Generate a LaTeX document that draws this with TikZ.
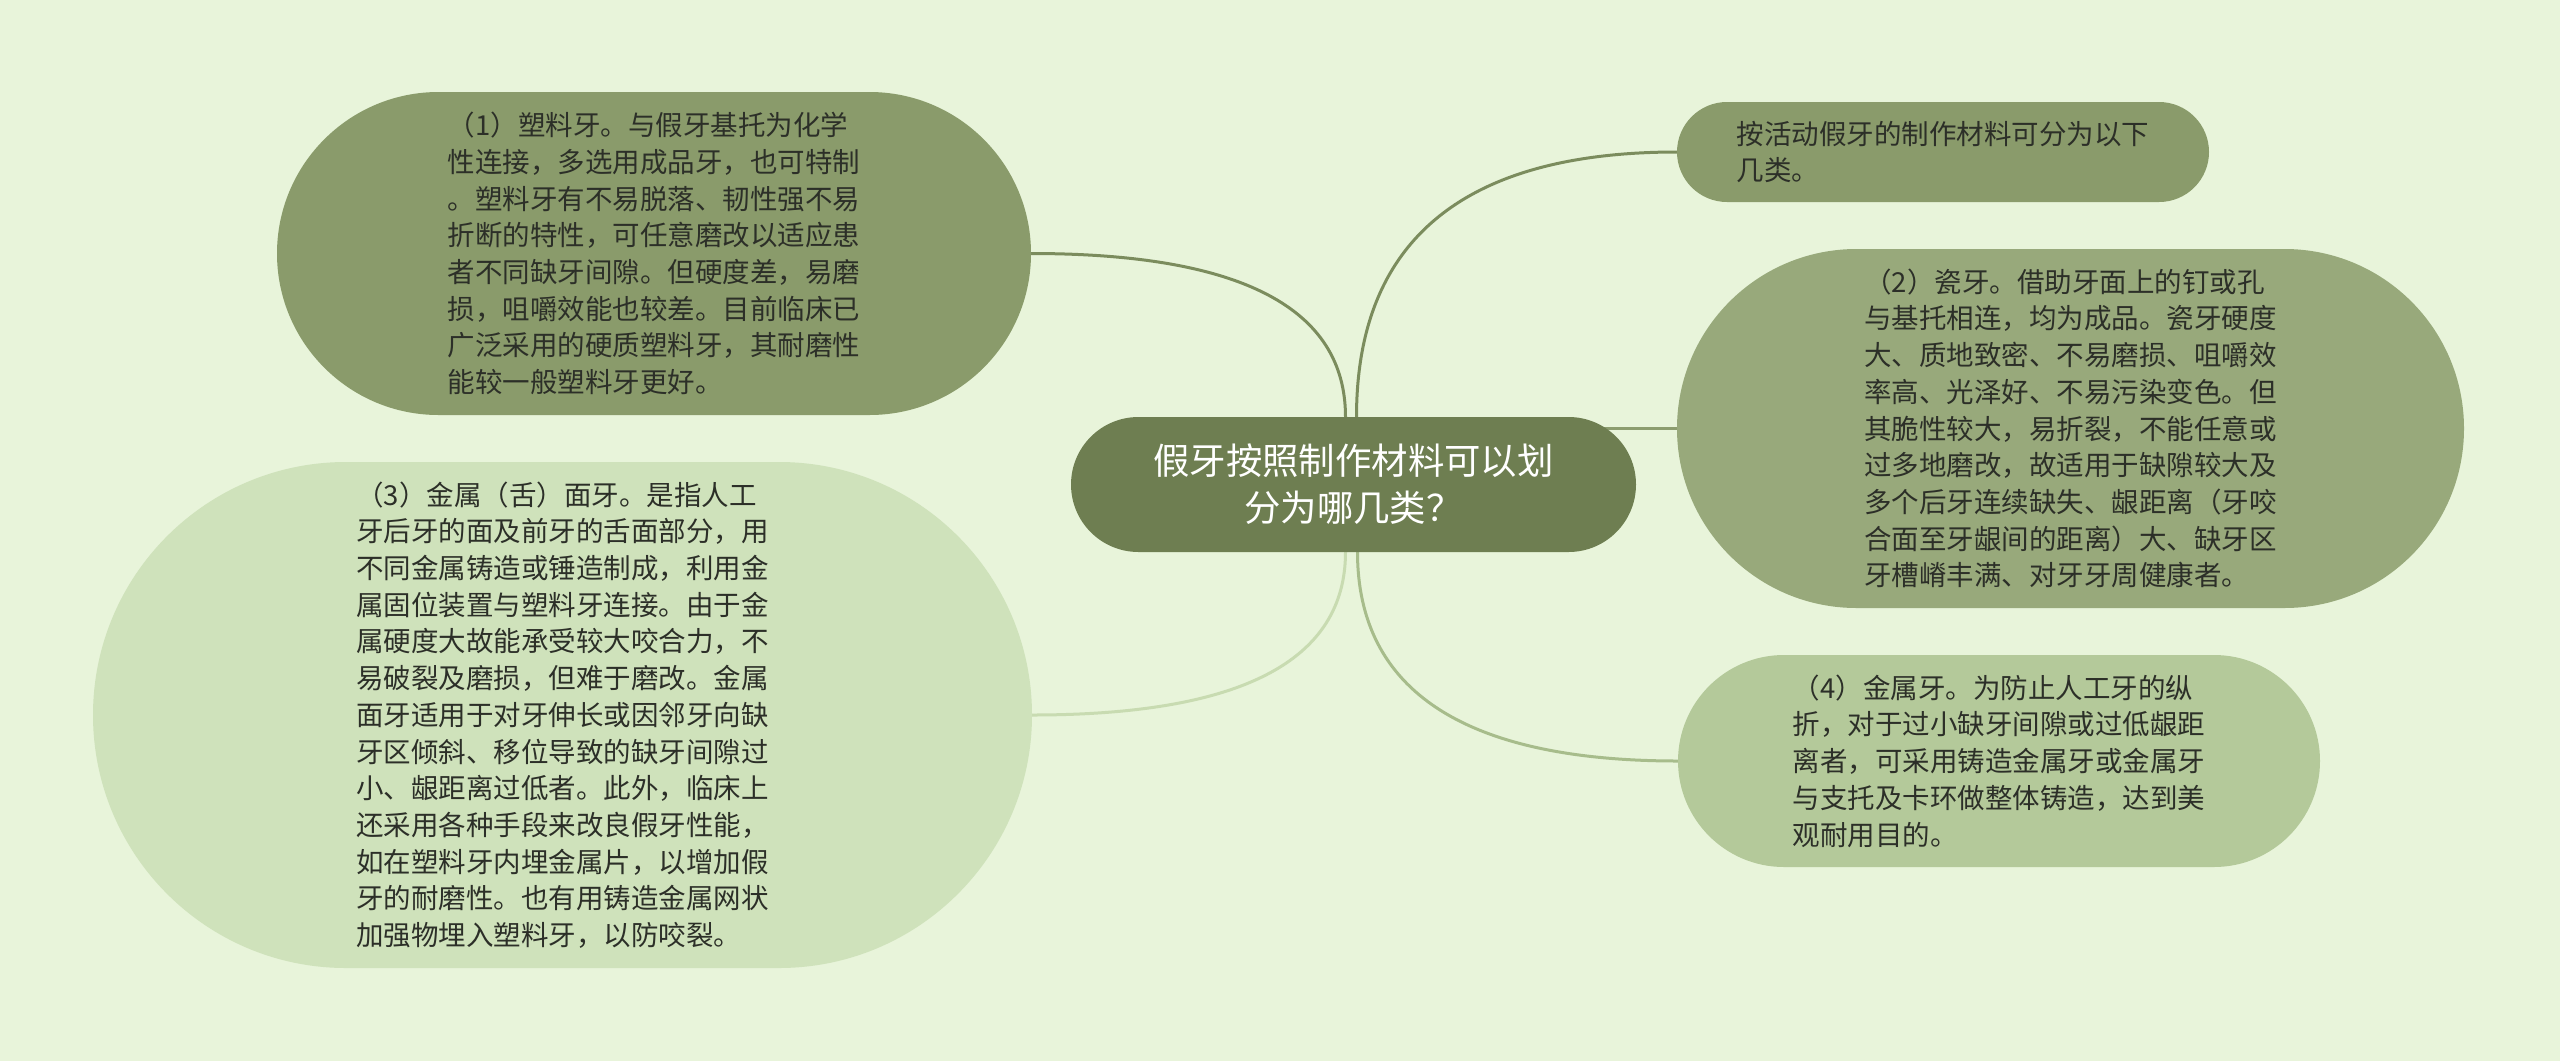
\documentclass[tikz,border=0pt]{standalone}
\usepackage{fontspec}
\setmainfont{Noto Sans CJK SC}
\usetikzlibrary{backgrounds}
\definecolor{bgc}{HTML}{E8F4DA}
\definecolor{rootc}{HTML}{6E7E51}
\definecolor{onec}{HTML}{8A9B6B}
\definecolor{twoc}{HTML}{98A97B}
\definecolor{threec}{HTML}{CFE2BB}
\definecolor{fourc}{HTML}{B4C99A}
\definecolor{linea}{HTML}{7B8C5D}
\definecolor{lineb}{HTML}{8C9D6F}
\definecolor{linec}{HTML}{C8DBB1}
\definecolor{lined}{HTML}{A7BC8B}
\definecolor{txtc}{HTML}{2C2F28}
\begin{document}
\begin{tikzpicture}[x=1pt,y=-1pt,
  every node/.style={inner sep=0pt, outer sep=0pt},
  leaf/.style={rectangle, align=left, text=txtc,
    font=\fontsize{27.5}{36.7}\selectfont},
  rootbox/.style={rectangle, align=center, text=white, fill=rootc,
    font=\fontsize{36.4}{47}\selectfont},
  conn/.style={line width=3pt}]
\useasboundingbox (0,0) rectangle (2560,1061);

\node[rootbox, minimum width=565pt, minimum height=135pt, rounded corners=67.5pt] (c) at (1353.5,484.5)
  {假牙按照制作材料可以划\\分为哪几类？};

\node[leaf, fill=onec, minimum width=754pt, minimum height=323pt, rounded corners=161.5pt] (n1) at (654,253.5)
  {（1）塑料牙。与假牙基托为化学\\
   性连接，多选用成品牙，也可特制\\
   。塑料牙有不易脱落、韧性强不易\\
   折断的特性，可任意磨改以适应患\\
   者不同缺牙间隙。但硬度差，易磨\\
   损，咀嚼效能也较差。目前临床已\\
   广泛采用的硬质塑料牙，其耐磨性\\
   能较一般塑料牙更好。};

\node[leaf, fill=threec, minimum width=939pt, minimum height=506pt, rounded corners=253pt] (n3) at (562.5,715)
  {（3）金属（舌）面牙。是指人工\\
   牙后牙的面及前牙的舌面部分，用\\
   不同金属铸造或锤造制成，利用金\\
   属固位装置与塑料牙连接。由于金\\
   属硬度大故能承受较大咬合力，不\\
   易破裂及磨损，但难于磨改。金属\\
   面牙适用于对牙伸长或因邻牙向缺\\
   牙区倾斜、移位导致的缺牙间隙过\\
   小、龈距离过低者。此外，临床上\\
   还采用各种手段来改良假牙性能，\\
   如在塑料牙内埋金属片，以增加假\\
   牙的耐磨性。也有用铸造金属网状\\
   加强物埋入塑料牙，以防咬裂。};

\node[leaf, fill=onec, minimum width=532pt, minimum height=100pt, rounded corners=50pt] (tr) at (1943,152)
  {按活动假牙的制作材料可分为以下\\几类。};

\node[leaf, fill=twoc, minimum width=787pt, minimum height=359pt, rounded corners=179.5pt] (n2) at (2070.5,428.5)
  {（2）瓷牙。借助牙面上的钉或孔\\
   与基托相连，均为成品。瓷牙硬度\\
   大、质地致密、不易磨损、咀嚼效\\
   率高、光泽好、不易污染变色。但\\
   其脆性较大，易折裂，不能任意或\\
   过多地磨改，故适用于缺隙较大及\\
   多个后牙连续缺失、龈距离（牙咬\\
   合面至牙龈间的距离）大、缺牙区\\
   牙槽嵴丰满、对牙牙周健康者。};

\node[leaf, fill=fourc, minimum width=642pt, minimum height=212pt, rounded corners=106pt] (n4) at (1999,761)
  {（4）金属牙。为防止人工牙的纵\\
   折，对于过小缺牙间隙或过低龈距\\
   离者，可采用铸造金属牙或金属牙\\
   与支托及卡环做整体铸造，达到美\\
   观耐用目的。};

\coordinate (n2in) at ([xshift=-60pt]c.east);

\begin{scope}[on background layer]
  \fill[bgc] (0,0) rectangle (2560,1061);
  \draw[conn, linea] ([xshift=-8pt]c.north) .. controls +(0,-109) and +(210,0) .. (n1.east);
  \draw[conn, linea] ([xshift=3pt]c.north) .. controls +(0,-177) and +(-213,0) .. (tr.west);
  \draw[conn, lineb] (n2in |- n2.west) -- (n2.west);
  \draw[conn, linec] ([xshift=-8pt]c.south) .. controls +(0,109) and +(209,0) .. (n3.east);
  \draw[conn, lined] ([xshift=4pt]c.south) .. controls +(0,139) and +(-213,0) .. (n4.west);
\end{scope}
\end{tikzpicture}
\end{document}
